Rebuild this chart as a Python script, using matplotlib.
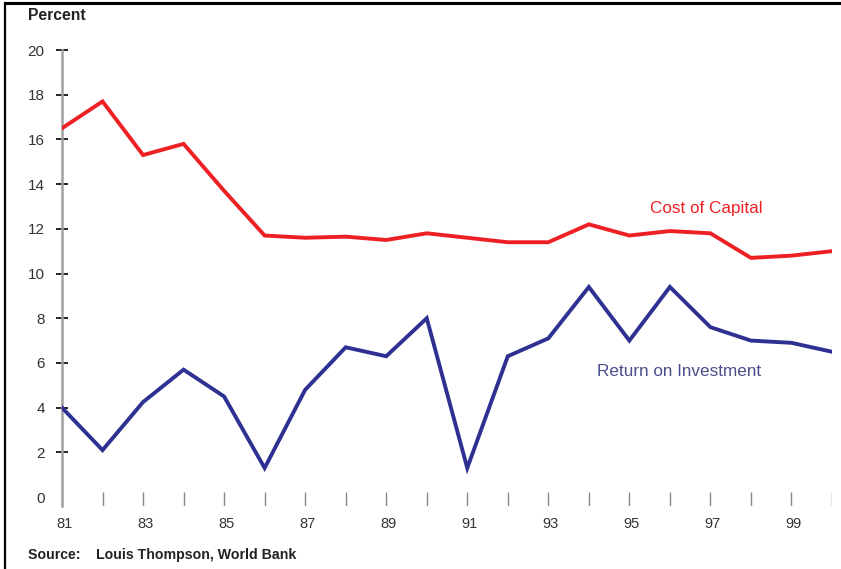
import matplotlib.pyplot as plt
from matplotlib.lines import Line2D

years = list(range(1981, 2001))
cost_of_capital = [16.5, 17.7, 15.3, 15.8, 13.7, 11.7, 11.6, 11.65, 11.5, 11.8,
                   11.6, 11.4, 11.4, 12.2, 11.7, 11.9, 11.8, 10.7, 10.8, 11.0]
return_on_inv = [4.0, 2.1, 4.25, 5.7, 4.5, 1.3, 4.8, 6.7, 6.3, 8.0,
                 1.3, 6.3, 7.1, 9.4, 7.0, 9.4, 7.6, 7.0, 6.9, 6.5]
ytick_vals = [0, 2, 4, 6, 8, 10, 12, 14, 16, 18, 20]
xtick_labels = ['81', '83', '85', '87', '89', '91', '93', '95', '97', '99']

W, H = 841, 569
fig = plt.figure(figsize=(W / 100, H / 100), dpi=100)
plt.rcParams['font.family'] = ['Liberation Sans', 'DejaVu Sans']

# axes placed in pixel terms: x 1981->62px, 2000->832px; y 20->50px, -0.4->506px
ax = fig.add_axes([62 / W, 1 - 506 / H, (832 - 62) / W, (506 - 50) / H])
ax.set_xlim(1981, 2000)
ax.set_ylim(-0.4, 20)

red = '#ee2024'
blue = '#2e3192'
ax.plot(years, cost_of_capital, color=red, lw=2.8, solid_joinstyle='miter', zorder=3)
ax.plot(years, return_on_inv, color=blue, lw=2.8, solid_joinstyle='miter', zorder=3)

for s in ['top', 'right', 'bottom']:
    ax.spines[s].set_visible(False)
ax.spines['left'].set_color('#a0a0a0')
ax.spines['left'].set_linewidth(1.8)

ax.set_yticks(ytick_vals)
ax.set_yticklabels([str(v) for v in ytick_vals], fontsize=11, color='#333333')
ax.tick_params(axis='y', direction='inout', length=9, width=1.2, color='black', pad=8)
ax.yaxis.get_major_ticks()[0].tick1line.set_visible(False)

# year tick marks below the zero line
ax.vlines(years[1:], -0.4, 0.22, color='#888888', lw=1.0)
ax.set_xticks([])
for i, lab in enumerate(xtick_labels):
    ax.text(1981 + 2 * i + 0.05, -0.9, lab, ha='center', va='top',
            fontsize=10.5, color='#333333')

ax.text(1995.5, 12.7, 'Cost of Capital', color=red, fontsize=12.3)
ax.text(1994.2, 5.4, 'Return on Investment', color='#4a4f8c', fontsize=12.3)

fig.text(28 / W, 1 - 16 / H, 'Percent', fontsize=11.3, fontweight='bold',
         color='#222222', va='center')
fig.text(28 / W, 1 - 555 / H, 'Source:    Louis Thompson, World Bank',
         fontsize=10.2, fontweight='bold', color='#222222', va='center')

# partial frame (top and left)
fig.add_artist(Line2D([4.5 / W, 1], [1 - 3 / H, 1 - 3 / H], color='black', lw=2.2,
                      transform=fig.transFigure))
fig.add_artist(Line2D([4.5 / W, 4.5 / W], [0, 1 - 3 / H], color='black', lw=1.6,
                      transform=fig.transFigure))

fig.savefig('out.png', dpi=100)
